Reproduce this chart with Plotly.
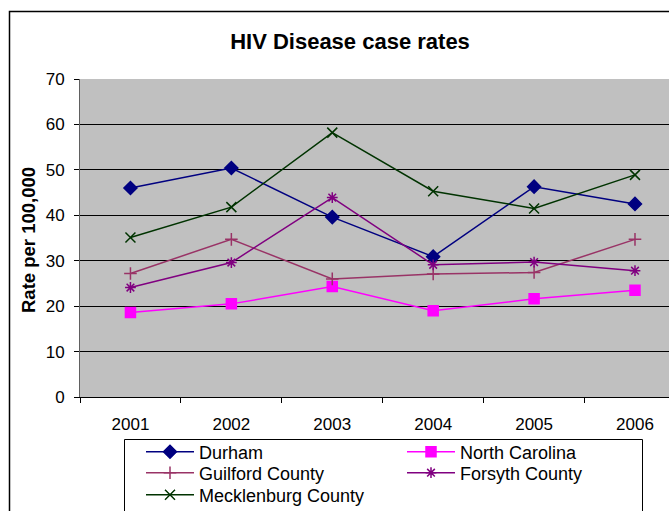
import plotly.graph_objects as go

years = ["2001", "2002", "2003", "2004", "2005", "2006"]
durham = [46.0, 50.4, 39.6, 30.9, 46.3, 42.5]
north_carolina = [18.6, 20.5, 24.3, 19.0, 21.6, 23.5]
guilford = [27.2, 34.7, 26.0, 27.1, 27.4, 34.7]
forsyth = [24.1, 29.6, 43.9, 29.1, 29.7, 27.8]
mecklenburg = [35.1, 41.8, 58.2, 45.3, 41.5, 48.9]
y_ticks = [0, 10, 20, 30, 40, 50, 60, 70]

W, H = 669, 511
L, R, T, B = 80, 0, 79, 114
pw = W - L - R
ph = H - T - B

def px_to_paper_x(px):
    return (px - L) / pw

def px_to_paper_y(py):
    return (H - B - py) / ph

fig = go.Figure()

series = [
    ("Durham", durham, "#000080", "diamond", 10, "legend"),
    ("North Carolina", north_carolina, "#FF00FF", "square", 10, "legend"),
    ("Guilford County", guilford, "#993366", "cross-thin-open", 9, "legend2"),
    ("Forsyth County", forsyth, "#800080", "asterisk-open", 9, "legend2"),
    ("Mecklenburg County", mecklenburg, "#003300", "x-thin-open", 10, "legend3"),
]

for name, vals, color, sym, size, lg in series:
    fig.add_trace(go.Scatter(
        x=years, y=vals, name=name, mode="lines+markers",
        line=dict(color=color, width=1.5),
        marker=dict(symbol=sym, size=size, color=color,
                    line=dict(color=color, width=1.5)),
        legend=lg,
    ))

def legend_row(yc):
    return dict(
        orientation="h",
        x=px_to_paper_x(141), xanchor="left",
        y=px_to_paper_y(yc), yanchor="middle",
        bgcolor="rgba(0,0,0,0)", borderwidth=0,
        font=dict(size=18, color="black"),
        itemwidth=48,
        entrywidth=198, entrywidthmode="pixels",
        traceorder="normal",
    )

fig.update_layout(
    width=W, height=H,
    margin=dict(l=L, r=R, t=T, b=B, autoexpand=False),
    paper_bgcolor="white",
    plot_bgcolor="#C0C0C0",
    font=dict(family="Liberation Sans, Arial, sans-serif", size=17, color="black"),
    title=dict(text="<b>HIV Disease case rates</b>", x=350 / W, xanchor="center",
               y=1 - 41 / H, yanchor="middle",
               font=dict(size=22, color="black")),
    showlegend=True,
    legend=legend_row(452),
    legend2=legend_row(473),
    legend3=legend_row(495),
    xaxis=dict(
        type="category",
        range=[-0.5, 5.337],
        showgrid=False, zeroline=False,
        showline=True, linecolor="black", linewidth=1,
        ticks="outside", ticklen=5, tickcolor="black",
        tickson="boundaries",
        ticklabelstandoff=12,
        tickfont=dict(size=17),
        fixedrange=True,
    ),
    yaxis=dict(
        range=[0, 70],
        tickvals=y_ticks,
        showgrid=True, gridcolor="black", gridwidth=1,
        zeroline=False,
        showline=True, linecolor="#606060", linewidth=1,
        ticks="outside", ticklen=5, tickcolor="black",
        ticklabelstandoff=6,
        tickfont=dict(size=17),
        fixedrange=True,
    ),
)

fig.add_annotation(
    text="<b>Rate per 100,000</b>", textangle=-90,
    xref="paper", yref="paper",
    x=px_to_paper_x(28), y=px_to_paper_y(240),
    xanchor="center", yanchor="middle", showarrow=False,
    font=dict(size=18.5, color="black"),
)

# outer chart border (extends beyond visible area at right and bottom)
fig.add_shape(
    type="rect", xref="paper", yref="paper",
    x0=px_to_paper_x(9.5), y0=px_to_paper_y(H + 10),
    x1=px_to_paper_x(W + 10), y1=px_to_paper_y(11.5),
    line=dict(color="black", width=1.5), layer="below",
)

# legend box
fig.add_shape(
    type="rect", xref="paper", yref="paper",
    x0=px_to_paper_x(124.5), y0=px_to_paper_y(H + 10),
    x1=px_to_paper_x(642.5), y1=px_to_paper_y(439.5),
    line=dict(color="black", width=1), fillcolor="white", layer="above",
)

fig.write_html("out.html", config={"displayModeBar": False},
               post_script="document.body.style.margin='0px';document.body.style.padding='0px';")
